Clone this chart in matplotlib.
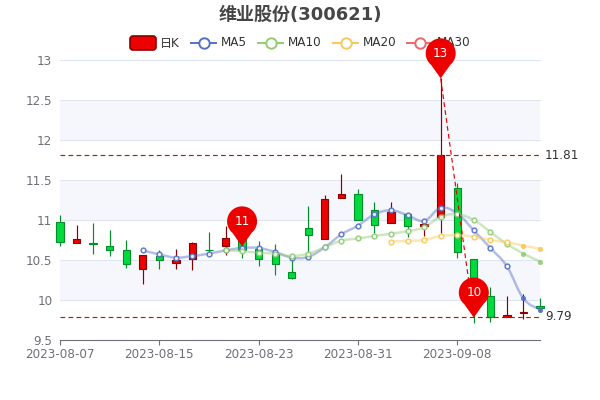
import matplotlib
matplotlib.use('Agg')
import numpy as np
import matplotlib.pyplot as plt
from matplotlib.patches import PathPatch, Rectangle, FancyBboxPatch
from matplotlib.path import Path
from matplotlib.lines import Line2D
from matplotlib.transforms import Affine2D

plt.rcParams['font.family'] = ['DejaVu Sans', 'Noto Sans CJK SC']

dates = ['2023-08-07', '2023-08-08', '2023-08-09', '2023-08-10', '2023-08-11',
         '2023-08-14', '2023-08-15', '2023-08-16', '2023-08-17', '2023-08-18',
         '2023-08-21', '2023-08-22', '2023-08-23', '2023-08-24', '2023-08-25',
         '2023-08-28', '2023-08-29', '2023-08-30', '2023-08-31', '2023-09-01',
         '2023-09-04', '2023-09-05', '2023-09-06', '2023-09-07', '2023-09-08',
         '2023-09-11', '2023-09-12', '2023-09-13', '2023-09-14', '2023-09-15']

# values
opens = [10.98, 10.71, 10.71, 10.68, 10.62, 10.39, 10.55, 10.46, 10.51, 10.63,
         10.67, 10.78, 10.64, 10.58, 10.35, 10.90, 10.76, 11.27, 11.32, 11.13,
         10.96, 11.07, 10.92, 11.04, 11.40, 10.51, 10.05, 9.79, 9.84, 9.92]
closes = [10.73, 10.76, 10.70, 10.62, 10.45, 10.56, 10.50, 10.50, 10.71, 10.62,
          10.77, 10.62, 10.51, 10.45, 10.28, 10.81, 11.26, 11.32, 11.00, 10.94,
          11.10, 10.92, 10.95, 11.81, 10.60, 10.05, 9.79, 9.81, 9.85, 9.90]
highs = [11.06, 10.94, 10.96, 10.88, 10.75, 10.56, 10.63, 10.64, 10.72, 10.85,
         10.92, 10.95, 10.74, 10.70, 10.55, 11.18, 11.31, 11.58, 11.39, 11.23,
         11.22, 11.09, 11.01, 12.77, 11.46, 10.51, 10.16, 10.05, 10.08, 10.03]
lows = [10.67, 10.71, 10.58, 10.55, 10.40, 10.20, 10.39, 10.39, 10.37, 10.56,
        10.56, 10.52, 10.42, 10.31, 10.26, 10.56, 10.76, 11.27, 11.00, 10.84,
        10.96, 10.79, 10.80, 10.84, 10.52, 9.71, 9.72, 9.79, 9.76, 9.85]

ma5 = [None] * 5 + [10.62, 10.57, 10.53, 10.55, 10.58, 10.62, 10.65, 10.65, 10.60,
                    10.53, 10.54, 10.66, 10.82, 10.93, 11.07, 11.12, 11.06, 10.99,
                    11.15, 11.08, 10.87, 10.65, 10.42, 10.02, 9.88]
ma10 = [None] * 10 + [10.62, 10.61, 10.59, 10.58, 10.55, 10.58, 10.66, 10.74, 10.77,
                      10.80, 10.83, 10.86, 10.91, 11.04, 11.07, 11.00, 10.85, 10.70,
                      10.58, 10.48]
ma20 = [None] * 20 + [10.73, 10.74, 10.75, 10.80, 10.81, 10.79, 10.75, 10.72, 10.68, 10.64]

pin_idx = [23, 11, 25]
pin_vals = [12.77, 10.67, 9.78]
pin_labels = ['13', '11', '10']
line_max = 11.81
line_min = 9.79
y_ticks = [9.5, 10, 10.5, 11, 11.5, 12, 12.5, 13]
y_labels = ['9.5', '10', '10.5', '11', '11.5', '12', '12.5', '13']

UP, UP_EDGE = '#ec0000', '#8a0000'
DOWN, DOWN_EDGE = '#00da3c', '#008f28'
GREY = '#6e7079'
MARK = '#cc1010'
MA_COLORS = {'MA5': '#5470c6', 'MA10': '#91cc75', 'MA20': '#fac858', 'MA30': '#ee6666'}
FS = 8.64  # 12px


# catmull-rom through the given points only, echarts draws its MA lines smooth like this
def smooth_path(xs, ys):
    verts = [(xs[0], ys[0])]
    codes = [Path.MOVETO]
    k = 0.2
    for i in range(len(xs) - 1):
        x0, y0 = xs[max(i - 1, 0)], ys[max(i - 1, 0)]
        x1, y1 = xs[i], ys[i]
        x2, y2 = xs[i + 1], ys[i + 1]
        x3, y3 = xs[min(i + 2, len(xs) - 1)], ys[min(i + 2, len(xs) - 1)]
        verts += [(x1 + (x2 - x0) * k, y1 + (y2 - y0) * k),
                  (x2 - (x3 - x1) * k, y2 - (y3 - y1) * k),
                  (x2, y2)]
        codes += [Path.CURVE4] * 3
    return Path(verts, codes)


fig = plt.figure(figsize=(6, 4), dpi=100, facecolor='white')
ax = fig.add_axes([60 / 600, 60 / 400, 480 / 600, 280 / 400])
ax.set_xlim(0, len(dates) - 1)
ax.set_ylim(9.5, 13)
px = Affine2D().scale(1, -1).translate(0, 400)  # legend works in top-left pixels

# alternating bands and grid
for lo, hi in [(12, 12.5), (11, 11.5), (10, 10.5)]:
    ax.axhspan(lo, hi, color='#f6f7fc', lw=0, zorder=0)
for t in y_ticks[1:]:
    ax.axhline(t, color='#e0e6f1', lw=0.8, zorder=1, clip_on=False)

for s in ['top', 'right', 'left']:
    ax.spines[s].set_visible(False)
ax.spines['bottom'].set_color(GREY)
ax.spines['bottom'].set_linewidth(0.8)
ax.set_yticks(y_ticks, y_labels)
ax.tick_params(axis='y', length=0, pad=5.5, labelcolor=GREY, labelsize=FS)
tick_idx = list(range(0, len(dates), 6))
ax.set_xticks(tick_idx, [dates[i] for i in tick_idx])
ax.tick_params(axis='x', length=3.6, width=0.8, color=GREY, pad=2, labelcolor=GREY, labelsize=FS)

# candles
width = 0.44
for i in range(len(dates)):
    up = closes[i] >= opens[i]
    edge = UP_EDGE if up else DOWN_EDGE
    fill = UP if up else DOWN
    ax.plot([i, i], [lows[i], highs[i]], color=edge, lw=0.85, zorder=3, solid_capstyle='butt', clip_on=False)
    bottom = min(opens[i], closes[i])
    ax.add_patch(Rectangle((i - width / 2, bottom), width, abs(closes[i] - opens[i]),
                           facecolor=fill, edgecolor=edge, lw=0.8, zorder=3, clip_on=False))

# moving averages, the last two points in the reference have no white centre
for name, vals in [('MA5', ma5), ('MA10', ma10), ('MA20', ma20)]:
    xs = [i for i, v in enumerate(vals) if v is not None]
    ys = [v for v in vals if v is not None]
    c = MA_COLORS[name]
    ax.add_patch(PathPatch(smooth_path(xs, ys), fill=False, edgecolor=c,
                           lw=1.8, alpha=0.45, zorder=4, capstyle='round'))
    ax.plot(xs[:-2], ys[:-2], ls='none', marker='o', ms=3.4, mfc='white', mec=c, mew=1.1,
            zorder=5, clip_on=False, alpha=0.9)
    ax.plot(xs[-2:], ys[-2:], ls='none', marker='o', ms=3.2, mfc=c, mec=c, mew=0.5,
            zorder=5, clip_on=False, alpha=0.9)

# mark lines
dash = (0, (4, 2.8))
ax.plot([0, len(dates) - 1], [line_max, line_max], color=MARK, ls=dash, lw=0.85, zorder=6)
ax.plot([0, len(dates) - 1], [line_min, line_min], color=MARK, ls=dash, lw=0.85, zorder=6)
ax.plot([pin_idx[0], pin_idx[2]], [pin_vals[0], pin_vals[2]], color='#ec0000', ls=dash, lw=0.85, zorder=6)
ax.annotate('11.81', (1, line_max), xycoords=('axes fraction', 'data'), xytext=(3.6, 0),
            textcoords='offset points', va='center', ha='left', fontsize=FS, color='#333333')
ax.annotate('9.79', (1, line_min), xycoords=('axes fraction', 'data'), xytext=(3.6, 0),
            textcoords='offset points', va='center', ha='left', fontsize=FS, color='#333333')

# pins, tip sits on the value
theta = np.linspace(np.radians(-50), np.radians(230), 60)
circle = np.column_stack([np.cos(theta), np.sin(theta) + 1.67])
pin_verts = [(0, 0)] + [tuple(p) for p in circle] + [(0, 0)]
pin_marker = Path(pin_verts, [Path.MOVETO] + [Path.LINETO] * (len(pin_verts) - 1))
for i, v, lab in zip(pin_idx, pin_vals, pin_labels):
    trans = Affine2D().scale(15).translate(*ax.transData.transform((i, v)))
    ax.add_patch(PathPatch(pin_marker, facecolor='#ec0000', edgecolor='#ec0000', lw=0,
                           transform=trans, zorder=8, clip_on=False))
    ax.annotate(lab, (i, v), xytext=(0, 18), textcoords='offset points', ha='center', va='center',
                color='white', fontsize=FS, zorder=9, annotation_clip=False)

# legend, drawn by hand so pin 13 can cover MA30
ax.add_patch(FancyBboxPatch((131.5, 37.5), 23, 11, boxstyle='round,pad=1.5,rounding_size=3', transform=px,
                            facecolor=UP, edgecolor=UP_EDGE, lw=1.2, zorder=7, clip_on=False))
ax.text(160, 43, '日K', transform=px, va='center', ha='left', fontsize=FS, color='#333333', zorder=7)
for name, x0 in [('MA5', 191), ('MA10', 258), ('MA20', 333), ('MA30', 407)]:
    c = MA_COLORS[name]
    ax.add_line(Line2D([x0, x0 + 25], [43, 43], transform=px, color=c, lw=1.4, zorder=7, clip_on=False))
    ax.add_line(Line2D([x0 + 12.5], [43], transform=px, marker='o', ms=7.5, mfc='white', mec=c, mew=1.4,
                       ls='none', zorder=7, clip_on=False))
    ax.text(x0 + 30, 43, name, transform=px, va='center', ha='left', fontsize=FS, color='#333333', zorder=7)

fig.text(0.5, 1 - 14.5 / 400, '维业股份(300621)', ha='center', va='center', fontsize=13,
         fontweight='bold', color='#464646')

fig.savefig('out.png', dpi=100)
